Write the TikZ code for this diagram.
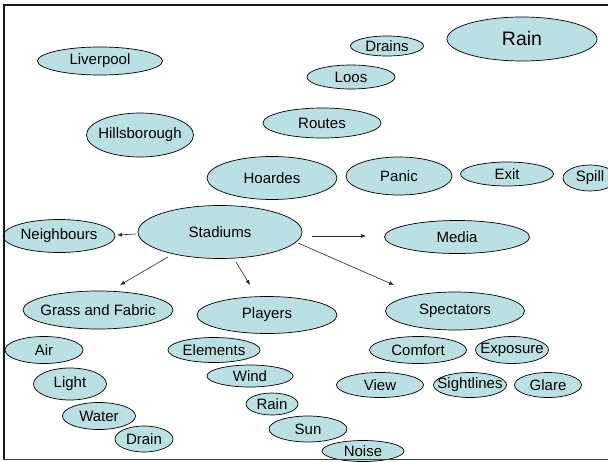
\documentclass[tikz,border=0pt]{standalone}
\usepackage{fontspec}
\setmainfont{Liberation Sans}
\usetikzlibrary{shapes.geometric,calc,arrows.meta}
\definecolor{bub}{RGB}{187,224,227}
\tikzset{
 bubble/.style={ellipse, draw=black, line width=0.7pt, fill=bub, inner sep=0pt},
 btext/.style={font=\fontsize{15}{18}\selectfont, inner sep=0pt},
 bigtext/.style={font=\fontsize{19.5}{23}\selectfont, inner sep=0pt},
 arr/.style={-{Latex[length=5pt,width=4pt]}, line width=0.6pt, black!85},
 frameline/.style={line width=2pt, black!90},
}
\newcommand\mybub[7][btext]{\node[bubble, minimum width=#5pt, minimum height=#6pt] (#2) at (#3,#4) {}; \node[#1] (#2t) at (#2) {#7};}
\begin{document}
\begin{tikzpicture}[x=1pt,y=-1pt]
\useasboundingbox (0,0) rectangle (608,461);
\mybub{lv}{100}{61}{125}{28}{Liverpool}
\mybub{hb}{140}{135}{107}{44}{Hillsborough}
\mybub{ho}{272}{178}{130}{43}{Hoardes}
\mybub{ro}{322}{123}{118}{30}{Routes}
\mybub{dr}{387}{46}{73}{20}{Drains}
\mybub{lo}{351}{77}{88}{24}{Loos}
\mybub[bigtext]{rn}{522}{39}{150}{44}{Rain}
\mybub{pa}{399}{176}{106}{38}{Panic}
\mybub{ex}{507}{174}{93}{24}{Exit}
\mybub{sl}{590}{178}{54}{26}{Spill}
\mybub{st}{220}{232}{164}{53}{Stadiums}
\mybub{nb}{59}{236}{112}{33}{Neighbours}
\mybub{md}{457}{237}{145}{33}{Media}
\mybub{gf}{98}{310}{150}{38}{Grass and Fabric}
\mybub{pl}{267}{315}{140}{37}{Players}
\mybub{sp}{455}{311}{139}{38}{Spectators}
\mybub{ai}{44}{350}{78}{27}{Air}
\mybub{el}{214}{350}{92}{25}{Elements}
\mybub{li}{70}{384}{73}{32}{Light}
\mybub{wi}{250}{376}{86}{22}{Wind}
\mybub{wa}{99}{416}{73}{27}{Water}
\mybub{rs}{272}{404}{52}{22}{Rain}
\mybub{da}{144}{439}{58}{26}{Drain}
\mybub{su}{308}{429}{78}{26}{Sun}
\mybub{no}{363}{451}{82}{21}{Noise}
\mybub{co}{418}{350}{97}{27}{Comfort}
\mybub{xp}{512}{350}{73}{27}{Exposure}
\mybub{vi}{380}{385}{87}{25}{View}
\mybub{si}{470}{385}{73}{25}{Sightlines}
\mybub{gl}{548}{385}{67}{25}{Glare}
% arrows
\draw[arr] ($(st)+(-84,2)$) -- ($(nb)+(58,-1)$);
\draw[arr] ($(st)+(92,4)$) -- ($(md)+(-91,-1)$);
\draw[arr] ($(st)+(-52,25)$) -- ($(gf)+(22,-25)$);
\draw[arr] ($(st)+(16,30)$) -- ($(pl)+(-17,-30)$);
\draw[arr] ($(st)+(78,11)$) -- ($(sp)+(-61,-26)$);
% frame
\draw[frameline] (608,5) -- (4,5) -- (4,459);
\draw[line width=1pt, black!75] (3,459) -- (608,459);
\end{tikzpicture}
\end{document}
